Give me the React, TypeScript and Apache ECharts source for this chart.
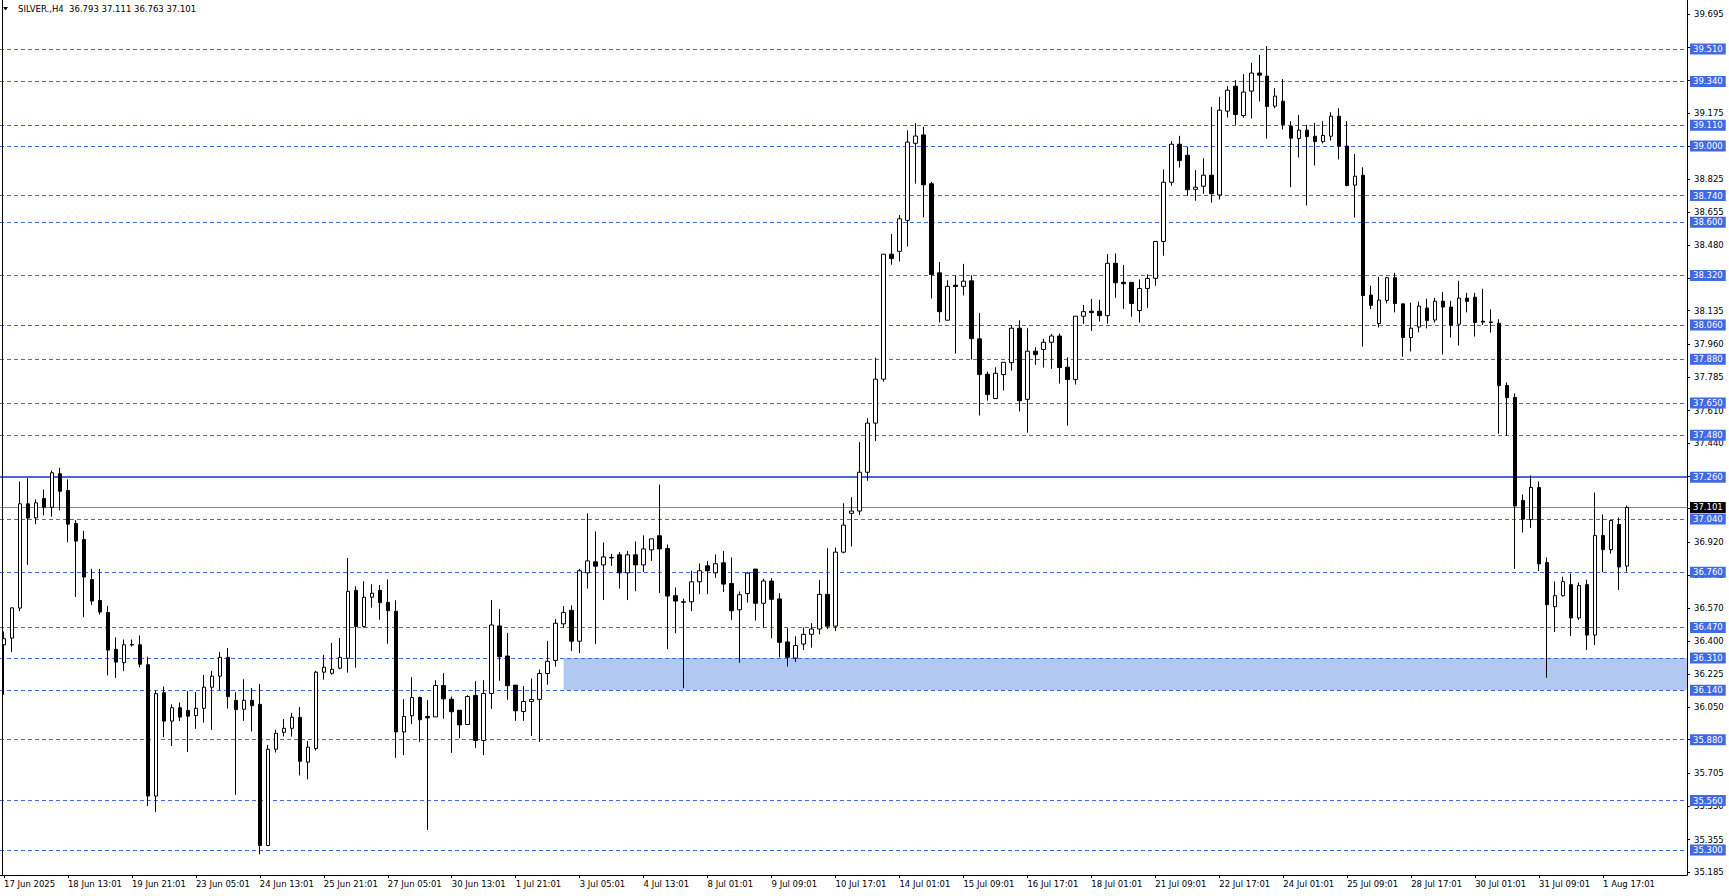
import React, { useEffect, useRef } from "react";
import * as echarts from "echarts";

// ---- data ----
const OPEN = [
  36.379, 36.414, 36.572, 37.12, 37.046, 37.148, 37.102, 37.278, 37.19, 37.017,
  36.933, 36.722, 36.612, 36.549, 36.355, 36.285, 36.378, 36.379, 36.274, 35.584,
  36.127, 35.978, 36.048, 36.034, 36.007, 36.045, 36.156, 36.214, 36.313, 36.087,
  36.04, 36.087, 36.066, 35.324, 35.83, 35.919, 35.94, 35.998, 35.762, 35.834,
  36.235, 36.229, 36.256, 36.308, 36.665, 36.475, 36.629, 36.665, 36.602, 36.555,
  35.921, 36.006, 36.102, 36.002, 36.0, 36.165, 36.093, 36.035, 35.96, 36.113,
  35.876, 36.123, 36.478, 36.32, 36.167, 36.028, 36.081, 36.092, 36.228, 36.297,
  36.489, 36.56, 36.398, 36.757, 36.815, 36.799, 36.836, 36.852, 36.757, 36.852,
  36.799, 36.878, 36.952, 36.885, 36.637, 36.605, 36.605, 36.71, 36.794, 36.757,
  36.81, 36.701, 36.563, 36.648, 36.777, 36.597, 36.714, 36.62, 36.394, 36.309,
  36.383, 36.434, 36.462, 36.644, 36.477, 36.866, 37.07, 37.082, 37.286, 37.544,
  37.775, 38.432, 38.447, 38.61, 39.015, 39.059, 38.802, 38.334, 38.085, 38.269,
  38.263, 38.292, 37.987, 37.801, 37.673, 37.799, 37.862, 38.043, 37.669, 37.922,
  37.931, 37.969, 38.002, 37.838, 37.773, 38.106, 38.132, 38.132, 38.109, 38.384,
  38.284, 38.284, 38.136, 38.252, 38.305, 38.499, 38.81, 39.01, 38.952, 38.773,
  38.789, 38.847, 38.743, 39.184, 39.315, 39.161, 39.289, 39.384, 39.368, 39.21,
  39.236, 39.105, 39.04, 39.084, 39.052, 39.024, 39.052, 39.157, 39.0, 38.795,
  38.847, 38.217, 38.068, 38.189, 38.308, 38.171, 37.994, 38.049, 38.149, 38.086,
  38.185, 38.154, 38.064, 38.201, 38.206, 38.08, 38.076, 38.069, 37.742, 37.679,
  37.137, 37.037, 37.206, 36.811, 36.579, 36.637, 36.695, 36.52, 36.695, 36.43,
  36.953, 36.879, 37.011, 36.793,
];
const HIGH = [
  36.449, 36.575, 37.237, 37.255, 37.143, 37.195, 37.295, 37.309, 37.248, 37.034,
  36.978, 36.778, 36.778, 36.584, 36.418, 36.407, 36.407, 36.428, 36.316, 36.137,
  36.16, 36.066, 36.076, 36.136, 36.131, 36.221, 36.242, 36.341, 36.362, 36.13,
  36.198, 36.152, 36.173, 35.853, 35.932, 35.989, 36.021, 36.052, 35.874, 36.242,
  36.326, 36.389, 36.415, 36.835, 36.686, 36.713, 36.697, 36.693, 36.723, 36.613,
  36.093, 36.209, 36.107, 36.088, 36.193, 36.23, 36.107, 36.035, 36.114, 36.188,
  36.193, 36.614, 36.567, 36.441, 36.167, 36.162, 36.202, 36.249, 36.399, 36.514,
  36.582, 36.586, 36.778, 37.069, 36.975, 36.917, 36.857, 36.866, 36.873, 36.922,
  36.954, 36.936, 37.221, 36.906, 36.68, 36.621, 36.768, 36.806, 36.82, 36.854,
  36.873, 36.838, 36.659, 36.762, 36.777, 36.726, 36.729, 36.65, 36.466, 36.423,
  36.47, 36.493, 36.72, 36.886, 36.89, 37.123, 37.155, 37.445, 37.57, 37.888,
  38.432, 38.538, 38.638, 39.083, 39.121, 39.102, 38.812, 38.391, 38.295, 38.321,
  38.381, 38.321, 38.123, 37.815, 37.838, 37.864, 38.058, 38.085, 38.043, 37.943,
  37.987, 38.013, 38.015, 37.89, 38.106, 38.165, 38.197, 38.192, 38.432, 38.436,
  38.375, 38.284, 38.299, 38.326, 38.499, 38.878, 39.026, 39.054, 38.998, 38.875,
  38.936, 39.206, 39.259, 39.315, 39.347, 39.378, 39.438, 39.48, 39.526, 39.305,
  39.352, 39.131, 39.164, 39.112, 39.122, 39.131, 39.178, 39.199, 39.131, 38.958,
  38.889, 38.266, 38.313, 38.313, 38.334, 38.171, 38.177, 38.182, 38.198, 38.203,
  38.234, 38.187, 38.292, 38.229, 38.229, 38.25, 38.142, 38.09, 37.758, 37.7,
  37.169, 37.269, 37.237, 36.837, 36.711, 36.737, 36.753, 36.706, 36.721, 37.179,
  37.064, 37.032, 37.048, 37.111,
];
const LOW = [
  36.116, 36.341, 36.556, 36.799, 37.013, 37.059, 37.053, 37.085, 36.918, 36.63,
  36.524, 36.588, 36.538, 36.218, 36.204, 36.241, 36.37, 36.26, 35.531, 35.5,
  35.894, 35.847, 35.978, 35.815, 35.937, 35.97, 35.932, 36.14, 36.044, 35.59,
  35.979, 35.923, 35.278, 35.32, 35.813, 35.897, 35.897, 35.692, 35.672, 35.823,
  36.196, 36.222, 36.25, 36.233, 36.259, 36.469, 36.574, 36.511, 36.385, 35.785,
  35.799, 35.962, 35.869, 35.406, 36.0, 35.99, 35.811, 35.888, 35.96, 35.837,
  35.799, 36.042, 36.19, 36.09, 35.979, 35.979, 35.899, 35.869, 36.169, 36.264,
  36.468, 36.346, 36.335, 36.675, 36.383, 36.614, 36.794, 36.675, 36.614, 36.661,
  36.761, 36.82, 36.651, 36.356, 36.44, 36.151, 36.556, 36.645, 36.645, 36.731,
  36.656, 36.509, 36.285, 36.601, 36.506, 36.47, 36.413, 36.313, 36.265, 36.288,
  36.351, 36.364, 36.434, 36.462, 36.451, 36.86, 36.896, 37.061, 37.241, 37.449,
  37.762, 38.377, 38.394, 38.472, 38.803, 38.625, 38.199, 38.073, 38.085, 37.91,
  38.215, 37.878, 37.584, 37.662, 37.673, 37.715, 37.82, 37.605, 37.494, 37.85,
  37.836, 37.829, 37.752, 37.531, 37.747, 38.066, 38.029, 38.078, 38.066, 38.203,
  38.145, 38.103, 38.073, 38.15, 38.266, 38.424, 38.792, 38.887, 38.738, 38.713,
  38.75, 38.703, 38.719, 39.15, 39.112, 39.15, 39.145, 39.235, 39.04, 39.199,
  39.087, 38.784, 38.94, 38.688, 38.898, 39.014, 39.029, 38.93, 38.788, 38.625,
  37.947, 38.143, 38.047, 38.173, 38.126, 37.893, 37.921, 38.021, 38.042, 38.073,
  37.905, 37.994, 37.952, 38.126, 37.999, 38.06, 38.02, 37.488, 37.478, 36.778,
  36.969, 36.993, 36.767, 36.206, 36.446, 36.632, 36.425, 36.509, 36.351, 36.378,
  36.762, 36.858, 36.667, 36.763,
];
const CLOSE = [
  36.411, 36.573, 37.12, 37.045, 37.125, 37.102, 37.283, 37.186, 37.013, 36.924,
  36.735, 36.609, 36.551, 36.351, 36.288, 36.379, 36.38, 36.277, 35.584, 36.122,
  35.978, 36.048, 35.999, 36.004, 36.045, 36.156, 36.214, 36.313, 36.107, 36.038,
  36.087, 36.059, 35.324, 35.83, 35.914, 35.94, 35.998, 35.767, 35.841, 36.235,
  36.261, 36.25, 36.313, 36.66, 36.475, 36.629, 36.65, 36.6, 36.558, 35.921,
  36.002, 36.102, 35.985, 35.995, 36.165, 36.095, 36.027, 35.958, 36.107, 35.876,
  36.123, 36.483, 36.316, 36.164, 36.032, 36.081, 36.092, 36.228, 36.292, 36.492,
  36.549, 36.398, 36.768, 36.82, 36.792, 36.841, 36.838, 36.757, 36.852, 36.799,
  36.883, 36.936, 36.883, 36.635, 36.609, 36.603, 36.71, 36.768, 36.768, 36.805,
  36.698, 36.558, 36.642, 36.756, 36.597, 36.714, 36.618, 36.392, 36.313, 36.375,
  36.434, 36.462, 36.644, 36.477, 36.866, 37.008, 37.082, 37.286, 37.544, 37.775,
  38.432, 38.409, 38.618, 39.021, 39.053, 38.797, 38.325, 38.13, 38.263, 38.262,
  38.29, 37.988, 37.799, 37.694, 37.806, 37.864, 38.043, 37.662, 37.922, 37.904,
  37.969, 38.002, 37.836, 37.773, 38.106, 38.13, 38.125, 38.109, 38.384, 38.282,
  38.277, 38.173, 38.252, 38.305, 38.499, 38.81, 39.01, 38.924, 38.771, 38.784,
  38.847, 38.75, 39.189, 39.294, 39.166, 39.284, 39.384, 39.373, 39.208, 39.263,
  39.114, 39.042, 39.084, 39.05, 39.024, 39.056, 39.157, 39.0, 38.793, 38.842,
  38.215, 38.163, 38.191, 38.308, 38.173, 37.994, 38.043, 38.159, 38.084, 38.185,
  38.154, 38.059, 38.201, 38.184, 38.073, 38.075, 38.073, 37.741, 37.678, 37.109,
  37.039, 37.206, 36.804, 36.59, 36.637, 36.711, 36.52, 36.69, 36.43, 36.953,
  36.879, 37.032, 36.788, 37.101,
];

// time labels, one every 8 bars
const TIME_LABELS = [
  "17 Jun 2025", "18 Jun 13:01", "19 Jun 21:01", "23 Jun 05:01", "24 Jun 13:01",
  "25 Jun 21:01", "27 Jun 05:01", "30 Jun 13:01", "1 Jul 21:01", "3 Jul 05:01",
  "4 Jul 13:01", "8 Jul 01:01", "9 Jul 09:01", "10 Jul 17:01", "14 Jul 01:01",
  "15 Jul 09:01", "16 Jul 17:01", "18 Jul 01:01", "21 Jul 09:01", "22 Jul 17:01",
  "24 Jul 01:01", "25 Jul 09:01", "28 Jul 17:01", "30 Jul 01:01", "31 Jul 09:01",
  "1 Aug 17:01",
];
const LABEL_EVERY = 8;
const EMPTY_SLOTS = 7;

// price axis
const Y_TICKS = [
  39.695, 39.52, 39.345, 39.175, 39.0, 38.825, 38.655, 38.48, 38.305, 38.135,
  37.96, 37.785, 37.61, 37.44, 37.265, 37.095, 36.92, 36.745, 36.57, 36.4,
  36.225, 36.05, 35.88, 35.705, 35.53, 35.355, 35.185,
];
const Y_LABELS = [
  39.695, 39.175, 38.825, 38.655, 38.48, 38.305, 38.135, 37.96, 37.785, 37.61,
  37.44, 36.92, 36.745, 36.57, 36.4, 36.225, 36.05, 35.705, 35.53, 35.355, 35.185,
];
const Y_MIN = 35.169;
const Y_MAX = 39.768;

// levels
const DASHED_LEVELS = [
  39.51, 39.34, 39.11, 39.0, 38.74, 38.6, 38.32, 38.06, 37.88, 37.65, 37.48,
  37.04, 36.76, 36.47, 36.31, 36.14, 35.88, 35.56, 35.3,
];
const SOLID_LEVEL = 37.26;
const BID = 37.101;
const ZONE_TOP = 36.31;
const ZONE_BOTTOM = 36.14;
const ZONE_START_BAR = 70;

const TITLE = "SILVER.,H4  36.793 37.111 36.763 37.101";

const FONT = "DejaVu Sans";
const BLUE = "#4169E1";

export default function App() {
  const ref = useRef<HTMLDivElement>(null);

  useEffect(() => {
    if (!ref.current) return;
    const chart = echarts.init(ref.current, undefined, { renderer: "svg" });

    const nSlots = OPEN.length + EMPTY_SLOTS;
    const categories: string[] = [];
    for (let i = 0; i < nSlots; i++) {
      const k = i / LABEL_EVERY;
      categories.push(i % LABEL_EVERY === 0 && k < TIME_LABELS.length ? TIME_LABELS[k] : "");
    }
    const candles = OPEN.map((o, i) => [o, CLOSE[i], LOW[i], HIGH[i]]);
    const showLabel = (idx: number) =>
      idx % LABEL_EVERY === 0 && idx / LABEL_EVERY < TIME_LABELS.length;

    const boxLabel = (bg: string) => ({
      show: true,
      position: "end" as const,
      distance: 3,
      color: "#fff",
      backgroundColor: bg,
      padding: [1, 3, 0, 3],
      fontSize: 8.5,
      lineHeight: 10,
      fontFamily: FONT,
      formatter: (p: any) => Number(p.value).toFixed(3),
    });

    const lineData: any[] = DASHED_LEVELS.map((v) => ({
      yAxis: v,
      lineStyle: { type: [4, 3], color: BLUE, width: 1 },
      label: boxLabel(BLUE),
    }));
    lineData.push({
      yAxis: SOLID_LEVEL,
      lineStyle: { type: "solid", color: BLUE, width: 2 },
      label: boxLabel(BLUE),
    });
    lineData.push({
      yAxis: BID,
      lineStyle: { type: "solid", color: "#778899", width: 1 },
      label: boxLabel("#000"),
    });

    chart.setOption({
      animation: false,
      backgroundColor: "#fff",
      textStyle: { fontFamily: FONT },
      grid: { left: -1, right: 42, top: 0, bottom: 21, containLabel: false },
      xAxis: {
        type: "category",
        data: categories,
        boundaryGap: true,
        axisLine: { show: true, lineStyle: { color: "#000", width: 1 } },
        axisTick: {
          show: true,
          alignWithLabel: true,
          interval: (idx: number) => showLabel(idx),
          length: 3,
          lineStyle: { color: "#000" },
        },
        axisLabel: {
          interval: (idx: number) => showLabel(idx),
          align: "left",
          margin: 4,
          color: "#000",
          fontSize: 8.5,
          fontFamily: FONT,
        },
        splitLine: { show: false },
      },
      yAxis: {
        type: "value",
        position: "right",
        min: Y_MIN,
        max: Y_MAX,
        axisLine: { show: true, lineStyle: { color: "#000", width: 1 } },
        axisTick: { show: true, customValues: Y_TICKS, length: 3, lineStyle: { color: "#000" } },
        axisLabel: {
          customValues: Y_LABELS,
          formatter: (v: number) => v.toFixed(3),
          margin: 7,
          color: "#000",
          fontSize: 8.5,
          fontFamily: FONT,
        },
        splitLine: { show: false },
      },
      graphic: [
        {
          type: "line",
          shape: { x1: 2.5, y1: 0, x2: 2.5, y2: 875 },
          style: { stroke: "#000", lineWidth: 1 },
          z: 10,
        },
        {
          type: "polygon",
          shape: { points: [[3, 7], [8, 7], [5.5, 10.5]] },
          style: { fill: "#000" },
          z: 10,
        },
        {
          type: "text",
          x: 18,
          y: 9,
          style: {
            text: TITLE,
            fill: "#000",
            font: `8.5px "${FONT}"`,
            verticalAlign: "middle",
          },
          z: 10,
        },
      ],
      series: [
        {
          type: "candlestick",
          data: candles,
          barWidth: 4,
          z: 3,
          itemStyle: {
            color: "#fff",
            color0: "#000",
            borderColor: "#000",
            borderColor0: "#000",
            borderColorDoji: "#000",
            borderWidth: 1,
          },
          markArea: {
            silent: true,
            z: 1,
            itemStyle: { color: "#b0c8f2" },
            data: [[{ xAxis: ZONE_START_BAR, yAxis: ZONE_TOP }, { yAxis: ZONE_BOTTOM }]],
          },
          markLine: {
            silent: true,
            z: 1,
            symbol: ["none", "none"],
            precision: 3,
            data: lineData,
          },
        },
      ],
    });

    return () => chart.dispose();
  }, []);

  return (
    <div
      ref={ref}
      style={{ position: "fixed", left: 0, top: 0, width: 1729, height: 896 }}
    />
  );
}
